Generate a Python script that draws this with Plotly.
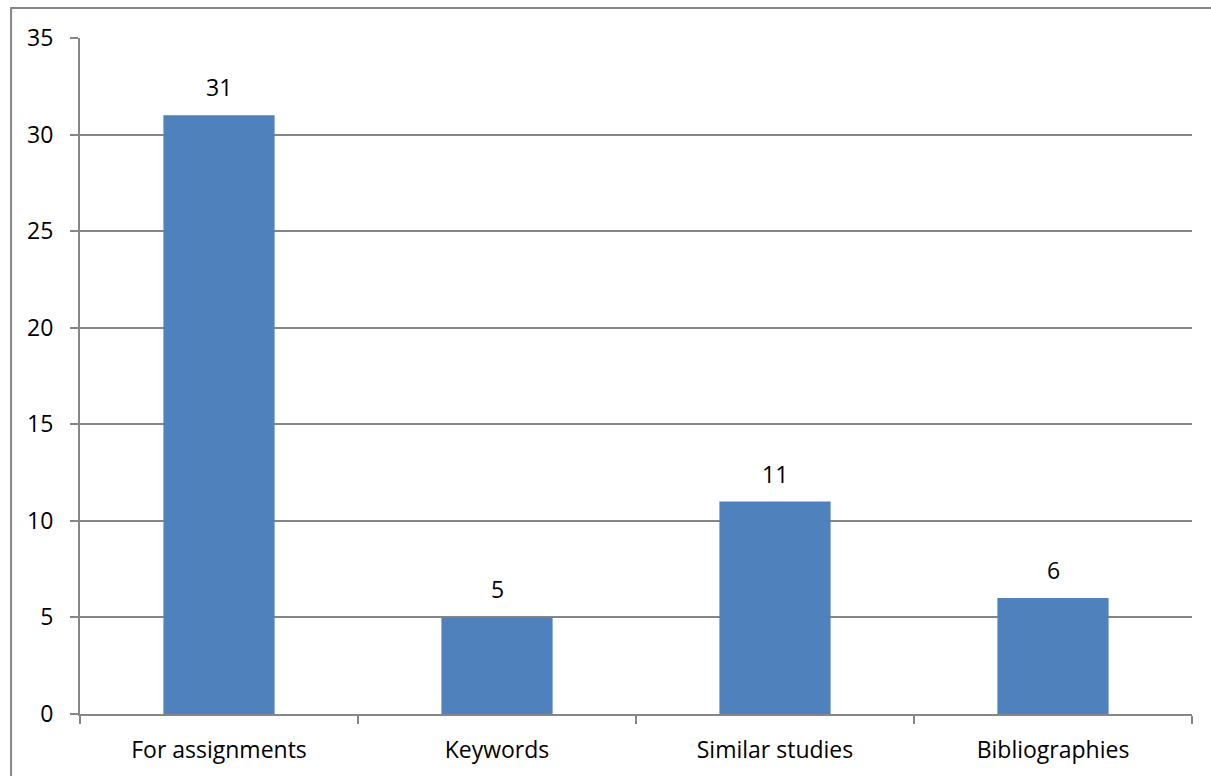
import plotly.graph_objects as go

categories = ["For assignments", "Keywords", "Similar studies", "Bibliographies"]
values = [31, 5, 11, 6]
y_ticks = [0, 5, 10, 15, 20, 25, 30, 35]

GRAY = "#868686"
BAR = "#4F81BD"
FONT = dict(family="Open Sans, Liberation Sans, sans-serif", size=23, color="#000000")

fig = go.Figure()
fig.add_trace(go.Bar(
    x=categories, y=values, marker=dict(color=BAR, line=dict(width=0)),
    width=0.4, hoverinfo="x+y",
))

for c, v in zip(categories, values):
    fig.add_annotation(x=c, y=v, text=str(v), showarrow=False,
                       yanchor="bottom", yshift=10, font=FONT)

fig.add_shape(type="rect", xref="paper", yref="paper",
              x0=-0.062, x1=1.2, y0=-0.3, y1=1.0444,
              line=dict(color=GRAY, width=2), fillcolor="rgba(0,0,0,0)", layer="below")

fig.update_layout(
    width=1211, height=776,
    margin=dict(l=80, r=19, t=38, b=62),
    paper_bgcolor="white", plot_bgcolor="white",
    showlegend=False, font=FONT,
    xaxis=dict(showline=True, linecolor=GRAY, linewidth=2, ticks="outside",
               tickson="boundaries", ticklen=8, tickcolor=GRAY, tickwidth=2,
               showgrid=False, ticklabelstandoff=14),
    yaxis=dict(range=[0, 35], tickvals=y_ticks, showline=True, linecolor=GRAY,
               linewidth=2, ticks="outside", ticklen=8, tickcolor=GRAY, tickwidth=2,
               showgrid=True, gridcolor=GRAY, gridwidth=2, zeroline=False,
               ticklabelstandoff=12),
)

fig.write_html("out.html")
